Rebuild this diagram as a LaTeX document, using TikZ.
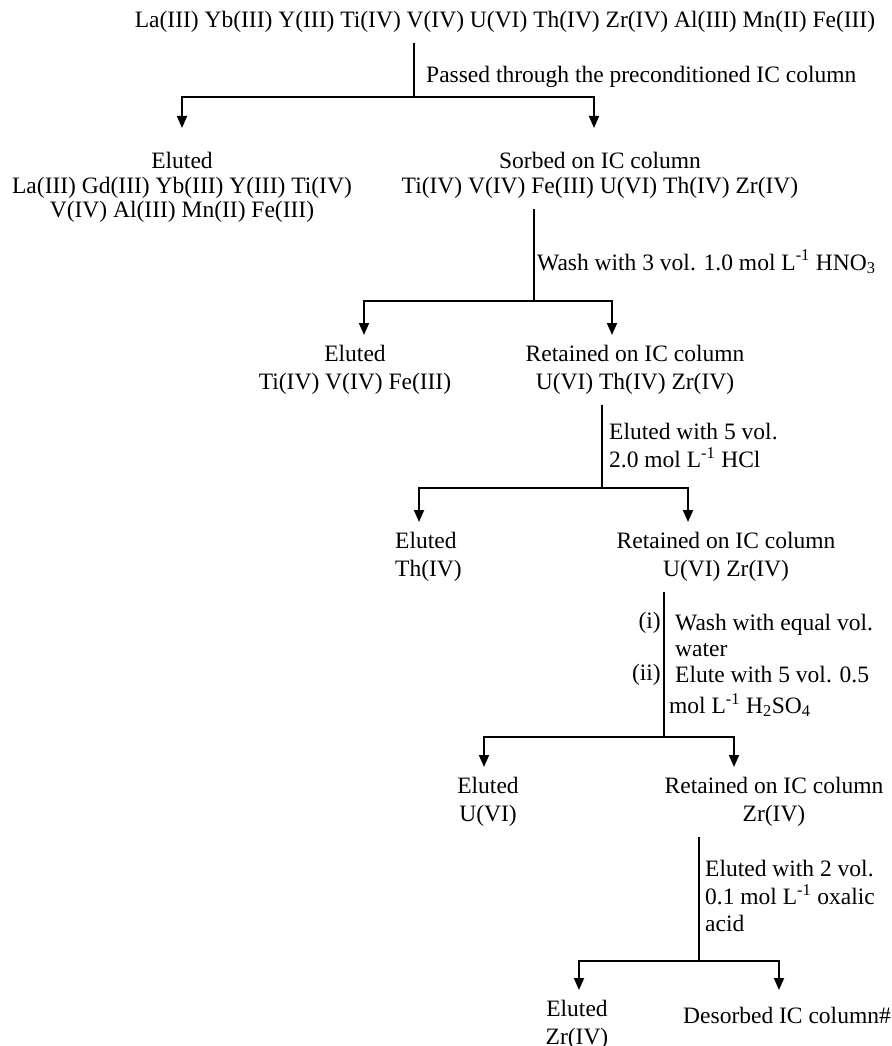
\documentclass[tikz,border=0pt]{standalone}
\usepackage{fontspec}
\setmainfont{Liberation Serif}
\usetikzlibrary{positioning}
\usetikzlibrary{arrows.meta}
\tikzset{stage node/.style={shape=rectangle, align=center,
    inner xsep=0pt, inner ysep=10pt}}
\tikzset{cond label/.style={anchor=west, align=left, inner sep=0pt}}
\tikzset{stem line/.style={line width=1.2pt}}
\tikzset{split line/.style={line width=1.8pt,
    {Triangle[length=12pt,width=10pt]}-{Triangle[length=12pt,width=10pt]}}}

\begin{document}
\begin{tikzpicture}[x=1pt, y=-1pt, font=\fontsize{23.5}{28}\selectfont]
    \useasboundingbox (0,0) rectangle (891,1046);

    \node[stage node] (feed) at (505,22) {La(III) Yb(III) Y(III) Ti(IV) V(IV) U(VI) Th(IV) Zr(IV) Al(III) Mn(II) Fe(III)};

    % column
    \coordinate (j0) at (414,97);
    \coordinate (c0l) at (182,97);
    \coordinate (c0r) at (594,97);
    \node[stage node, font=\fontsize{23.5}{24.5}\selectfont] (elA) [below = 45pt of c0l] {Eluted\\La(III) Gd(III) Yb(III) Y(III) Ti(IV)\\V(IV) Al(III) Mn(II) Fe(III)};
    \node[stage node, font=\fontsize{23.5}{25}\selectfont] (sorb) [below = 45pt of c0r, xshift=6pt] {Sorbed on IC column\\Ti(IV) V(IV) Fe(III) U(VI) Th(IV) Zr(IV)};
    \node[cond label] (passA) at (426,77) {Passed through the preconditioned IC column};

    % HNO3 wash
    \coordinate (j1) at (534,301);
    \coordinate (c1l) at (364,301);
    \coordinate (c1r) at (612,301);
    \node[stage node] (elB) [below = 34pt of c1l, xshift=-9pt] {Eluted\\Ti(IV) V(IV) Fe(III)};
    \node[stage node] (reB) [below = 34pt of c1r, xshift=23pt] {Retained on IC column\\U(VI) Th(IV) Zr(IV)};
    \node[cond label] (washA) at (537,262) {Wash with 3 vol. 1.0 mol L\textsuperscript{-1} HNO\textsubscript{3}};

    % HCl
    \coordinate (j2) at (602,488);
    \coordinate (c2l) at (419,488);
    \coordinate (c2r) at (688,488);
    \node[stage node, align=left] (elC) [below right = 34pt and -24pt of c2l] {Eluted\\Th(IV)};
    \node[stage node] (reC) [below = 34pt of c2r, xshift=38pt] {Retained on IC column\\U(VI) Zr(IV)};
    \node[cond label] (hclA) at (609,446) {Eluted with 5 vol.\\2.0 mol L\textsuperscript{-1} HCl};

    % H2SO4
    \coordinate (j3) at (664,737);
    \coordinate (c3l) at (484,737);
    \coordinate (c3r) at (734,737);
    \node[stage node] (elD) [below = 30pt of c3l, xshift=4pt] {Eluted\\U(VI)};
    \node[stage node] (reD) [below = 30pt of c3r, xshift=40pt] {Retained on IC column\\Zr(IV)};
    \node[cond label, anchor=east] (stepI) at (661,623) {(i)};
    \node[cond label, anchor=east] (stepII) at (661,675) {(ii)};
    \node[cond label, font=\fontsize{23.5}{26}\selectfont] (washB) at (675,649) {Wash with equal vol.\\water\\Elute with 5 vol. 0.5};
    \node[cond label] (acidA) at (669,705) {mol L\textsuperscript{-1} H\textsubscript{2}SO\textsubscript{4}};

    % oxalic acid
    \coordinate (j4) at (699,961);
    \coordinate (c4l) at (579,961);
    \coordinate (c4r) at (779,961);
    \node[stage node] (elE) [below = 29pt of c4l, xshift=-2pt] {Eluted\\Zr(IV)};
    \node[stage node] (deE) [below = 36pt of c4r, xshift=8pt] {Desorbed IC column\#};
    \node[cond label, font=\fontsize{23.5}{27.5}\selectfont] (acidB) at (705,896) {Eluted with 2 vol.\\0.1 mol L\textsuperscript{-1} oxalic\\acid};

    \draw[stem line] (feed.south -| j0) -- (j0);
    \draw[split line, shorten <=14pt, shorten >=14pt] (c0l |- elA.north) |- (j0) -| (c0r |- sorb.north);
    \draw[stem line] (sorb.south -| j1) -- (j1);
    \draw[split line] (c1l |- elB.north) |- (j1) -| (c1r |- reB.north);
    \draw[stem line] (reB.south -| j2) -- (j2);
    \draw[split line] (c2l |- elC.north) |- (j2) -| (c2r |- reC.north);
    \draw[stem line] (reC.south -| j3) -- (j3);
    \draw[split line] (c3l |- elD.north) |- (j3) -| (c3r |- reD.north);
    \draw[stem line] (reD.south -| j4) -- (j4);
    \draw[split line, shorten >=7pt] (c4l |- elE.north) |- (j4) -| (c4r |- deE.north);
\end{tikzpicture}
\end{document}
